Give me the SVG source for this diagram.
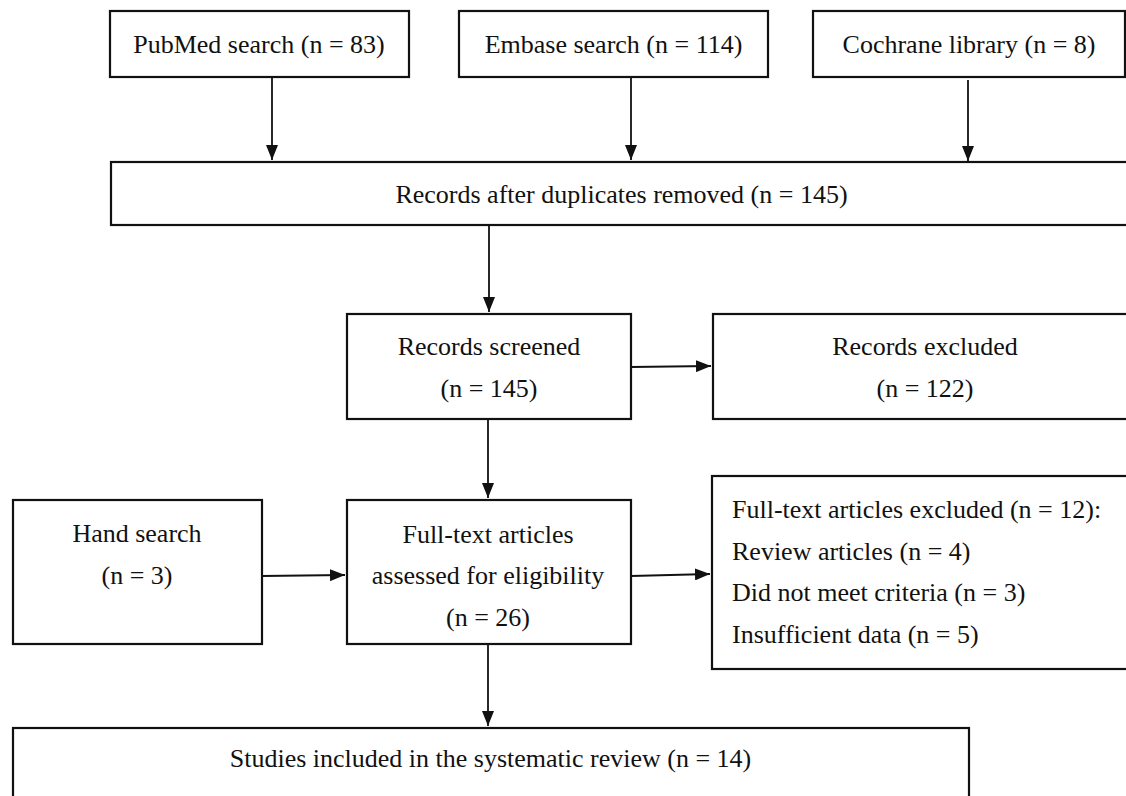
<svg xmlns="http://www.w3.org/2000/svg" width="1126" height="796" viewBox="0 0 1126 796">
<style>
.box{fill:#fff;stroke:#111;stroke-width:2.2}
.t{font-family:"Liberation Serif","Times New Roman",serif;font-size:26px;fill:#111}
.c{text-anchor:middle}
.conn{stroke:#111;stroke-width:1.8;fill:none;marker-end:url(#ah)}
</style>
<defs>
<marker id="ah" viewBox="0 0 15 12" refX="15" refY="6" markerWidth="15" markerHeight="12" markerUnits="userSpaceOnUse" orient="auto">
<path d="M0,0 L15,6 L0,12 Z" fill="#111"/>
</marker>
</defs>
<rect width="1126" height="796" fill="#fff"/>
<g id="pubmed"><rect class="box" x="110" y="11" width="299" height="66"/><text class="t c" x="259" y="53">PubMed search (n = 83)</text></g>
<g id="embase"><rect class="box" x="459" y="11" width="309" height="66"/><text class="t c" x="613.5" y="53">Embase search (n = 114)</text></g>
<g id="cochrane"><rect class="box" x="813" y="11" width="312" height="66"/><text class="t c" x="969" y="53">Cochrane library (n = 8)</text></g>
<g id="dedup"><rect class="box" x="111" y="162" width="1021" height="63"/><text class="t c" x="621.5" y="203">Records after duplicates removed (n = 145)</text></g>
<g id="screened"><rect class="box" x="347" y="314" width="284" height="105"/><text class="t c" x="489" y="355">Records screened</text><text class="t c" x="489" y="397">(n = 145)</text></g>
<g id="excluded"><rect class="box" x="713" y="314" width="424" height="105"/><text class="t c" x="925" y="355">Records excluded</text><text class="t c" x="925" y="397">(n = 122)</text></g>
<g id="hand"><rect class="box" x="13" y="500" width="249" height="144"/><text class="t c" x="137" y="542">Hand search</text><text class="t c" x="137" y="584">(n = 3)</text></g>
<g id="fulltext"><rect class="box" x="347" y="500" width="284" height="144"/><text class="t c" x="488" y="543">Full-text articles</text><text class="t c" x="488" y="584">assessed for eligibility</text><text class="t c" x="488" y="626">(n = 26)</text></g>
<g id="ftexcluded"><rect class="box" x="712" y="476" width="424" height="193"/><text class="t" x="732" y="518">Full-text articles excluded (n = 12):</text><text class="t" x="732" y="560">Review articles (n = 4)</text><text class="t" x="732" y="601">Did not meet criteria (n = 3)</text><text class="t" x="732" y="643">Insufficient data (n = 5)</text></g>
<g id="included"><rect class="box" x="13" y="728" width="956" height="90"/><text class="t c" x="490.5" y="767">Studies included in the systematic review (n = 14)</text></g>
<g id="connectors">
<line class="conn" x1="272" y1="77" x2="272" y2="160"/>
<line class="conn" x1="631" y1="77" x2="631" y2="160"/>
<line class="conn" x1="968" y1="80" x2="968" y2="161"/>
<line class="conn" x1="489" y1="225" x2="489" y2="312"/>
<line class="conn" x1="631" y1="367" x2="711" y2="366"/>
<line class="conn" x1="488" y1="419" x2="488" y2="498"/>
<line class="conn" x1="262" y1="576" x2="345" y2="575"/>
<line class="conn" x1="631" y1="576" x2="710" y2="574"/>
<line class="conn" x1="488" y1="644" x2="488" y2="726"/>
</g>
</svg>
